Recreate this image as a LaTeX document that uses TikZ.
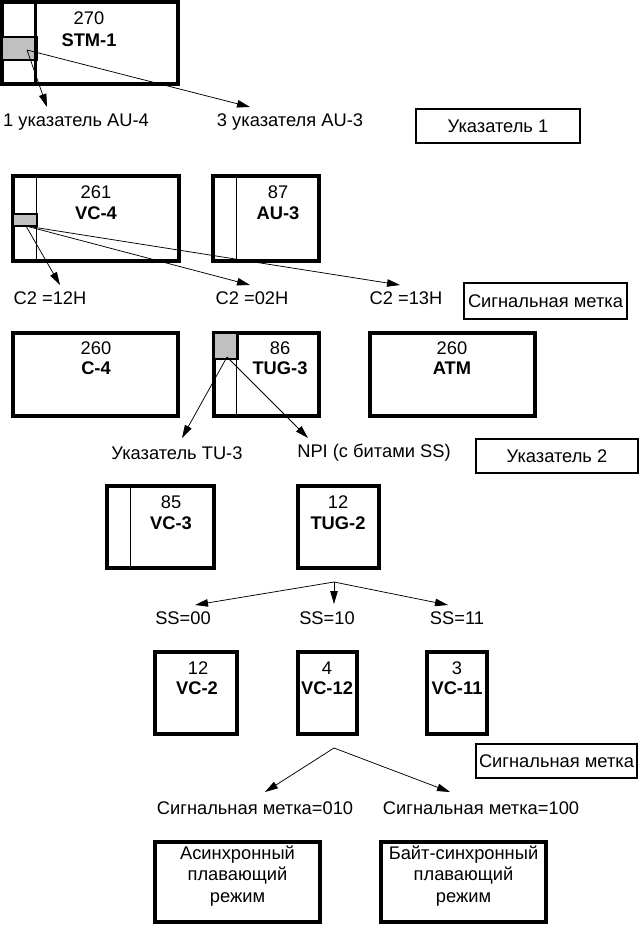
\documentclass[tikz,border=0pt]{standalone}
\usepackage{fontspec}
\setmainfont{Liberation Sans}
\usepackage{tikz}
\usetikzlibrary{arrows.meta, positioning}
\definecolor{cellgray}{RGB}{192,192,192}
\tikzset{
  frame_box/.style={rectangle, draw=black, line width=3.2pt, inner sep=0pt},
  tag_box/.style={rectangle, draw=black, line width=2.1pt, inner sep=0pt, font=\fontsize{18.3}{21}\selectfont},
  sep_line/.style={line width=1.8pt},
  sep_thick/.style={line width=3pt},
  gray_cell/.style={fill=cellgray, draw=black, line width=2pt},
  num_text/.style={font=\fontsize{18.3}{21}\selectfont, inner sep=0pt},
  name_text/.style={font=\fontsize{18.3}{21}\selectfont\bfseries, inner sep=0pt},
  lbl/.style={font=\fontsize{18.3}{21}\selectfont, inner sep=0pt},
  mode_text/.style={font=\fontsize{18.3}{21.5}\selectfont, align=center, inner sep=0pt},
  arrow/.style={-{Triangle[length=13pt, width=7.5pt]}, line width=0.75pt, black}
}

\begin{document}
\begin{tikzpicture}[x=1pt, y=-1pt]
    \useasboundingbox (0,0) rectangle (641,925);

    % STM-1 frame with its pointer cell
    \node[frame_box, minimum width=176pt, minimum height=82pt] (stm) at (90,43) {};
    \draw[gray_cell] (2,37) rectangle (37,60);
    \draw[sep_thick] ([xshift=35pt]stm.north west) -- ([xshift=35pt]stm.south west);
    \node[num_text] (stm_num) at (89,18) {270};
    \node[name_text] (stm_name) at (89,40) {STM-1};

    \coordinate (stm_ptr) at (27,50);
    \coordinate (au4_tip) at (47,107);
    \coordinate (au3_tip) at (250,107);
    \draw[arrow] (stm_ptr) -- (au4_tip);
    \draw[arrow] (stm_ptr) -- (au3_tip);
    \node[lbl] (au4_lbl) at (76,122) {1 указатель AU-4};
    \node[lbl] (au3_lbl) at (290,122) {3 указателя AU-3};
    \node[tag_box, minimum width=164pt, minimum height=34pt] (ptr_one) at (498,126) {Указатель 1};

    % VC-4 and AU-3
    \node[frame_box, minimum width=166pt, minimum height=85pt] (vc4) at (96,218.5) {};
    \draw[gray_cell] (13,214) rectangle (37,226);
    \draw[sep_line] ([xshift=25pt]vc4.north west) -- ([xshift=25pt]vc4.south west);
    \node[num_text] (vc4_num) at (96,192) {261};
    \node[name_text] (vc4_name) at (96,213) {VC-4};

    \node[frame_box, minimum width=106pt, minimum height=85pt] (au3) at (266,218.5) {};
    \draw[sep_line] ([xshift=25pt]au3.north west) -- ([xshift=25pt]au3.south west);
    \node[num_text] (au3_num) at (278,192) {87};
    \node[name_text] (au3_name) at (278,213) {AU-3};

    \coordinate (vc4_ptr) at (26,226);
    \coordinate (c2a_tip) at (60,285);
    \coordinate (c2b_tip) at (250,285);
    \coordinate (c2c_tip) at (400,285);
    \draw[arrow] (vc4_ptr) -- (c2a_tip);
    \draw[arrow] (vc4_ptr) -- (c2b_tip);
    \draw[arrow] (vc4_ptr) -- (c2c_tip);
    \node[lbl] (c2a_lbl) at (50,298) {C2 =12H};
    \node[lbl] (c2b_lbl) at (252,298) {C2 =02H};
    \node[lbl] (c2c_lbl) at (406,298) {C2 =13H};
    \node[tag_box, minimum width=163pt, minimum height=36pt] (sig_one) at (545.5,301) {Сигнальная метка};

    % C-4, TUG-3, ATM
    \node[frame_box, minimum width=165pt, minimum height=83pt] (c4) at (95.5,374.5) {};
    \node[num_text] (c4_num) at (96,348) {260};
    \node[name_text] (c4_name) at (96,368) {C-4};

    \node[frame_box, minimum width=105pt, minimum height=83pt] (tug3) at (266.5,374.5) {};
    \draw[gray_cell] (214,333) rectangle (238,359);
    \draw[sep_line] ([xshift=24pt]tug3.north west) -- ([xshift=24pt]tug3.south west);
    \node[num_text] (tug3_num) at (280,348) {86};
    \node[name_text] (tug3_name) at (280,368) {TUG-3};

    \node[frame_box, minimum width=165pt, minimum height=83pt] (atm) at (452.5,374.5) {};
    \node[num_text] (atm_num) at (452,348) {260};
    \node[name_text] (atm_name) at (452,368) {ATM};

    \coordinate (tug3_ptr) at (227,357);
    \coordinate (tu3_tip) at (182,438);
    \coordinate (npi_tip) at (308,438);
    \draw[arrow] (tug3_ptr) -- (tu3_tip);
    \draw[arrow] (tug3_ptr) -- (npi_tip);
    \node[lbl] (tu3_lbl) at (177,453) {Указатель TU-3};
    \node[lbl] (npi_lbl) at (374,453) {NPI (с битами SS)};
    \node[tag_box, minimum width=162pt, minimum height=34pt] (ptr_two) at (557,456) {Указатель 2};

    % VC-3 and TUG-2
    \node[frame_box, minimum width=107pt, minimum height=82pt] (vc3) at (160.5,527) {};
    \draw[sep_line] ([xshift=25pt]vc3.north west) -- ([xshift=25pt]vc3.south west);
    \node[num_text] (vc3_num) at (171,502) {85};
    \node[name_text] (vc3_name) at (171,523) {VC-3};

    \node[frame_box, minimum width=81pt, minimum height=82pt] (tug2) at (338.5,527) {};
    \node[num_text] (tug2_num) at (338,502) {12};
    \node[name_text] (tug2_name) at (338,523) {TUG-2};

    \coordinate (tug2_fork) at (334,582);
    \coordinate (ss00_tip) at (195,605);
    \coordinate (ss10_tip) at (334,604);
    \coordinate (ss11_tip) at (448,605);
    \draw[arrow] (tug2_fork) -- (ss00_tip);
    \draw[arrow] (tug2_fork) -- (ss10_tip);
    \draw[arrow] (tug2_fork) -- (ss11_tip);
    \node[lbl] (ss00_lbl) at (183,618) {SS=00};
    \node[lbl] (ss10_lbl) at (327,618) {SS=10};
    \node[lbl] (ss11_lbl) at (457,618) {SS=11};

    % VC-2, VC-12, VC-11
    \node[frame_box, minimum width=82pt, minimum height=82pt] (vc2) at (196,693) {};
    \node[num_text] (vc2_num) at (198,668) {12};
    \node[name_text] (vc2_name) at (197,688) {VC-2};

    \node[frame_box, minimum width=59pt, minimum height=82pt] (vc12) at (327.5,693) {};
    \node[num_text] (vc12_num) at (327,668) {4};
    \node[name_text] (vc12_name) at (327,688) {VC-12};

    \node[frame_box, minimum width=60pt, minimum height=82pt] (vc11) at (457,693) {};
    \node[num_text] (vc11_num) at (457,668) {3};
    \node[name_text] (vc11_name) at (457,688) {VC-11};

    \node[tag_box, minimum width=161pt, minimum height=34pt] (sig_two) at (556.5,761) {Сигнальная метка};

    \coordinate (vc12_fork) at (334,748);
    \coordinate (async_tip) at (265,792);
    \coordinate (bsync_tip) at (450,792);
    \draw[arrow] (vc12_fork) -- (async_tip);
    \draw[arrow] (vc12_fork) -- (bsync_tip);
    \node[lbl] (async_lbl) at (255,808) {Сигнальная метка=010};
    \node[lbl] (bsync_lbl) at (481,808) {Сигнальная метка=100};

    % floating modes
    \node[frame_box, minimum width=165pt, minimum height=80pt] (async) at (237.5,882) {};
    \node[mode_text, below=5pt of async.north] (async_txt) {Асинхронный\\плавающий\\режим};
    \node[frame_box, minimum width=165pt, minimum height=80pt] (bsync) at (463.5,882) {};
    \node[mode_text, below=5pt of bsync.north] (bsync_txt) {Байт-синхронный\\плавающий\\режим};
\end{tikzpicture}
\end{document}
